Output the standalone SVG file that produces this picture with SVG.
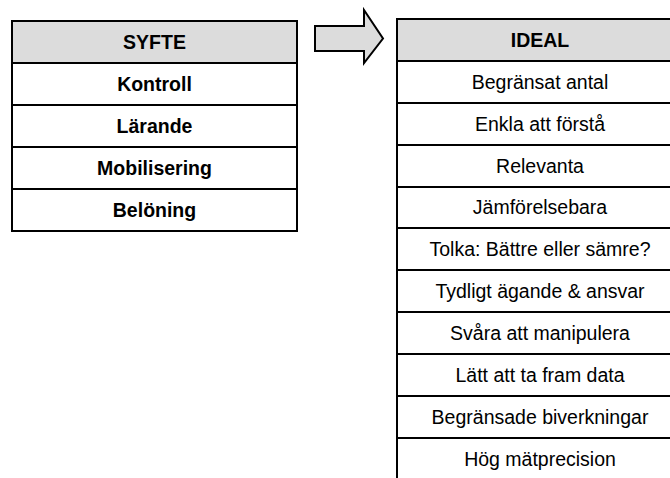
<svg xmlns="http://www.w3.org/2000/svg" width="670" height="478" viewBox="0 0 670 478">
<style>
.cell{fill:#ffffff;stroke:#000;stroke-width:2}
.hdr{fill:#dcdcdc;stroke:#000;stroke-width:2}
.b{font-family:"Liberation Sans",Arial,sans-serif;font-size:19.5px;font-weight:bold;text-anchor:middle;fill:#000}
.r{font-family:"Liberation Sans",Arial,sans-serif;font-size:19.5px;text-anchor:middle;fill:#000}
</style>
<rect width="670" height="478" fill="#fff"/>
<g id="syfte">
<rect class="hdr" x="12" y="21" width="285" height="42"/>
<text class="b" x="154.5" y="49">SYFTE</text>
<rect class="cell" x="12" y="63" width="285" height="42"/>
<text class="b" x="154.5" y="91">Kontroll</text>
<rect class="cell" x="12" y="105" width="285" height="42"/>
<text class="b" x="154.5" y="133">Lärande</text>
<rect class="cell" x="12" y="147" width="285" height="42"/>
<text class="b" x="154.5" y="175">Mobilisering</text>
<rect class="cell" x="12" y="189" width="285" height="42"/>
<text class="b" x="154.5" y="217">Belöning</text>
</g>
<g id="connectors">
<path d="M315,26 L364,26 L364,10 L383,38.5 L364,63 L364,51 L315,51 Z" fill="#dcdcdc" stroke="#000" stroke-width="2" stroke-linejoin="miter"/>
</g>
<g id="ideal">
<rect class="hdr" x="397" y="19" width="290" height="42"/>
<text class="b" x="540" y="47">IDEAL</text>
<rect class="cell" x="397" y="61" width="290" height="42"/>
<text class="r" x="540" y="88.5">Begränsat antal</text>
<rect class="cell" x="397" y="103" width="290" height="42"/>
<text class="r" x="540" y="130.5">Enkla att förstå</text>
<rect class="cell" x="397" y="145" width="290" height="42"/>
<text class="r" x="540" y="172.5">Relevanta</text>
<rect class="cell" x="397" y="187" width="290" height="41"/>
<text class="r" x="540" y="214">Jämförelsebara</text>
<rect class="cell" x="397" y="228" width="290" height="42"/>
<text class="r" x="540" y="255.5">Tolka: Bättre eller sämre?</text>
<rect class="cell" x="397" y="270" width="290" height="42"/>
<text class="r" x="540" y="297.5">Tydligt ägande &amp; ansvar</text>
<rect class="cell" x="397" y="312" width="290" height="42"/>
<text class="r" x="540" y="339.5">Svåra att manipulera</text>
<rect class="cell" x="397" y="354" width="290" height="42"/>
<text class="r" x="540" y="381.5">Lätt att ta fram data</text>
<rect class="cell" x="397" y="396" width="290" height="42"/>
<text class="r" x="540" y="423.5">Begränsade biverkningar</text>
<rect class="cell" x="397" y="438" width="290" height="44"/>
<text class="r" x="540" y="465.5">Hög mätprecision</text>
</g>
</svg>
